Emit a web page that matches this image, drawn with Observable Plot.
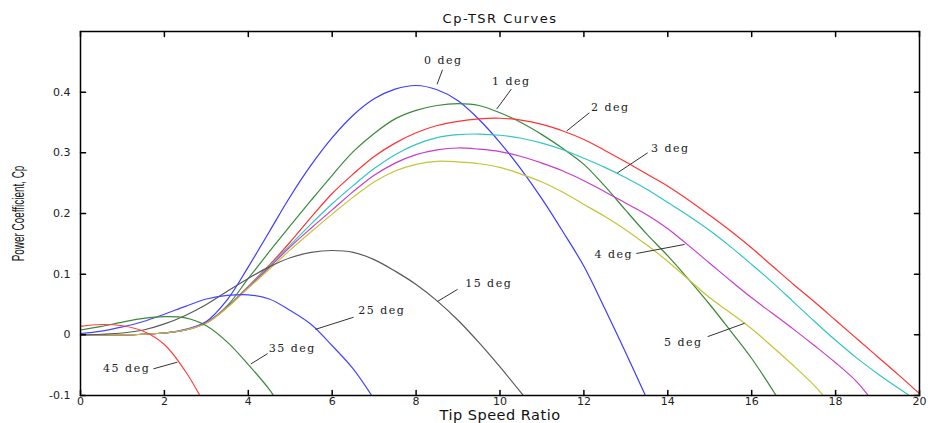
<!DOCTYPE html>
<html><head><meta charset="utf-8">
<script src="https://cdn.jsdelivr.net/npm/d3@7"></script>
<script src="https://cdn.jsdelivr.net/npm/@observablehq/plot@0.6"></script>
<style>
html,body{margin:0;padding:0;background:#fff;}
#chart svg{display:block;}
</style></head><body><div id="chart"></div>
<script>
// Tip speed ratio (x) vs power coefficient Cp (y), per pitch angle
const pitch0 = [[0,0],[0.5,0],[1,0],[1.5,0.001],[2,0.003],[2.5,0.009],[3,0.022],[3.5,0.058],[4,0.112],[4.5,0.17],[5,0.228],[5.5,0.28],[6,0.325],[6.5,0.362],[7,0.389],[7.5,0.405],[8,0.411],[8.5,0.404],[9,0.386],[9.5,0.355],[10,0.317],[10.5,0.273],[11,0.224],[11.5,0.17],[12,0.113],[12.5,0.043],[13,-0.03],[13.48,-0.102]];
const pitch1 = [[0,0],[0.5,0],[1,0],[1.5,0.001],[2,0.003],[2.5,0.008],[3,0.02],[3.5,0.048],[4,0.093],[4.5,0.137],[5,0.18],[5.5,0.222],[6,0.263],[6.5,0.302],[7,0.332],[7.5,0.356],[8,0.37],[8.5,0.378],[9,0.381],[9.5,0.378],[10,0.366],[10.5,0.35],[11,0.33],[11.5,0.307],[12,0.281],[12.5,0.245],[13,0.205],[13.5,0.166],[14,0.13],[14.5,0.091],[15,0.05],[15.5,0.006],[16,-0.039],[16.6,-0.102]];
const pitch2 = [[0,0],[0.5,0],[1,0],[1.5,0.001],[2,0.003],[2.5,0.008],[3,0.02],[3.5,0.046],[4,0.08],[4.5,0.115],[5,0.153],[5.5,0.194],[6,0.233],[6.5,0.265],[7,0.294],[7.5,0.316],[8,0.333],[8.5,0.345],[9,0.352],[9.5,0.356],[10,0.357],[10.5,0.354],[11,0.347],[11.5,0.336],[12,0.322],[12.5,0.304],[13,0.285],[13.5,0.265],[14,0.245],[14.5,0.222],[15,0.197],[15.5,0.171],[16,0.143],[16.5,0.113],[17,0.083],[17.5,0.054],[18,0.024],[18.5,-0.006],[19,-0.036],[19.5,-0.066],[20,-0.097]];
const pitch3 = [[0,0],[0.5,0],[1,0],[1.5,0.001],[2,0.003],[2.5,0.008],[3,0.02],[3.5,0.046],[4,0.079],[4.5,0.113],[5,0.148],[5.5,0.183],[6,0.216],[6.5,0.246],[7,0.274],[7.5,0.297],[8,0.314],[8.5,0.325],[9,0.33],[9.5,0.331],[10,0.329],[10.5,0.324],[11,0.316],[11.5,0.305],[12,0.291],[12.5,0.276],[13,0.259],[13.5,0.24],[14,0.218],[14.5,0.196],[15,0.172],[15.5,0.145],[16,0.116],[16.5,0.086],[17,0.054],[17.5,0.022],[18,-0.009],[18.5,-0.038],[19,-0.064],[19.5,-0.088],[19.8,-0.102]];
const pitch4 = [[0,0],[0.5,0],[1,0],[1.5,0.001],[2,0.003],[2.5,0.008],[3,0.02],[3.5,0.046],[4,0.078],[4.5,0.111],[5,0.145],[5.5,0.176],[6,0.206],[6.5,0.236],[7,0.263],[7.5,0.283],[8,0.297],[8.5,0.305],[9,0.308],[9.5,0.306],[10,0.302],[10.5,0.294],[11,0.283],[11.5,0.27],[12,0.254],[12.5,0.236],[13,0.217],[13.5,0.198],[14,0.175],[14.5,0.147],[15,0.118],[15.5,0.089],[16,0.061],[16.5,0.035],[17,0.009],[17.5,-0.018],[18,-0.046],[18.5,-0.077],[18.8,-0.102]];
const pitch5 = [[0,0],[0.5,0],[1,0],[1.5,0.001],[2,0.003],[2.5,0.008],[3,0.019],[3.5,0.045],[4,0.077],[4.5,0.108],[5,0.14],[5.5,0.17],[6,0.199],[6.5,0.227],[7,0.252],[7.5,0.27],[8,0.281],[8.5,0.286],[9,0.285],[9.5,0.282],[10,0.276],[10.5,0.265],[11,0.252],[11.5,0.235],[12,0.215],[12.5,0.195],[13,0.173],[13.5,0.148],[14,0.121],[14.5,0.091],[15,0.061],[15.5,0.036],[16,0.01],[16.5,-0.02],[17,-0.051],[17.5,-0.084],[17.73,-0.102]];
const pitch15 = [[0,0],[0.5,0.001],[1,0.003],[1.5,0.008],[2,0.018],[2.5,0.032],[3,0.05],[3.5,0.072],[4,0.093],[4.5,0.112],[5,0.127],[5.5,0.136],[6,0.139],[6.5,0.136],[7,0.124],[7.5,0.105],[8,0.083],[8.5,0.056],[9,0.024],[9.5,-0.013],[10,-0.053],[10.58,-0.102]];
const pitch25 = [[0,0.002],[0.5,0.006],[1,0.013],[1.5,0.022],[2,0.034],[2.5,0.047],[3,0.059],[3.5,0.065],[4,0.066],[4.5,0.059],[5,0.04],[5.5,0.017],[6,-0.018],[6.5,-0.056],[6.96,-0.102]];
const pitch35 = [[0,0.008],[0.5,0.014],[1,0.021],[1.5,0.027],[2,0.03],[2.5,0.028],[3,0.015],[3.5,-0.012],[4,-0.049],[4.5,-0.09],[4.62,-0.102]];
const pitch45 = [[0,0.014],[0.5,0.017],[1,0.015],[1.5,0.006],[2,-0.016],[2.5,-0.06],[2.86,-0.102]];

const seriesNames = ["0 deg","1 deg","2 deg","3 deg","4 deg","5 deg","15 deg","25 deg","35 deg","45 deg"];
const seriesData = [pitch0,pitch1,pitch2,pitch3,pitch4,pitch5,pitch15,pitch25,pitch35,pitch45];
const palette = ["#3c3cff","#3a8a3a","#ff3333","#33c4c4","#c83cc8","#c4c436","#5a5a5a","#4646ff","#3a8a3a","#ff4040"];

const xTicks = [0,2,4,6,8,10,12,14,16,18,20];
const yTicks = [-0.1,0,0.1,0.2,0.3,0.4];

// annotation label positions (data units) and leader lines
const labelText = ["0 deg","1 deg","2 deg","3 deg","4 deg","5 deg","15 deg","25 deg","35 deg","45 deg"];
const labelX = [8.65,10.27,12.63,14.06,12.71,14.37,9.73,7.18,5.05,1.1];
const labelY = [0.452,0.418,0.375,0.308,0.133,-0.013,0.085,0.04,-0.023,-0.056];
const leadX1 = [8.63,10.27,12.13,13.52,13.25,14.95,8.99,6.51,4.46,1.74];
const leadY1 = [0.437,0.405,0.366,0.3,0.134,-0.003,0.075,0.029,-0.031,-0.056];
const leadX2 = [8.5,9.92,11.59,12.8,14.4,15.83,8.51,5.6,4.06,2.31];
const leadY2 = [0.413,0.372,0.336,0.267,0.149,0.019,0.055,0.009,-0.048,-0.045];

const rows = seriesNames.flatMap((name, i) => seriesData[i].map(([x, y]) => ({series: name, x, y})));
const labels = labelText.map((t, i) => ({text: t, tx: labelX[i], ty: labelY[i], x1: leadX1[i], y1: leadY1[i], x2: leadX2[i], y2: leadY2[i]}));

const tickShape = {draw(ctx, l) { ctx.moveTo(0, 0); ctx.lineTo(0, -l); }};
const yFmt = d => d === 0 ? "0" : d.toFixed(1);

const chart = Plot.plot({
  width: 928, height: 423,
  marginLeft: 80, marginRight: 9, marginTop: 31, marginBottom: 28,
  x: {domain: [0, 20]},
  y: {domain: [-0.1, 0.5]},
  color: {domain: seriesNames, range: palette},
  style: {background: "#fff", fontFamily: "DejaVu Sans, sans-serif", color: "#000"},
  marks: [
    Plot.axisX({ticks: xTicks, tickSize: 0, tickPadding: 2, tickFormat: d => String(d), fontSize: 11, fill: "#222", label: null}),
    Plot.axisY({ticks: yTicks, tickSize: 0, tickPadding: 10, tickFormat: yFmt, fontSize: 11, fill: "#222", label: null}),
    Plot.line(rows, {x: "x", y: "y", z: "series", stroke: "series", strokeWidth: 1.2, curve: "catmull-rom", clip: true}),
    Plot.link(labels, {x1: "x1", y1: "y1", x2: "x2", y2: "y2", stroke: "#333", strokeWidth: 1}),
    Plot.text(labels, {x: "tx", y: "ty", text: "text", fontFamily: "DejaVu Serif, serif", fontSize: 11, fill: "#222"}),
    Plot.vector(xTicks, {x: d => d, frameAnchor: "bottom", length: 5, rotate: 0, anchor: "start", shape: tickShape, stroke: "#000"}),
    Plot.vector(xTicks, {x: d => d, frameAnchor: "top", length: 5, rotate: 180, anchor: "start", shape: tickShape, stroke: "#000"}),
    Plot.vector(yTicks, {y: d => d, frameAnchor: "left", length: 5, rotate: 90, anchor: "start", shape: tickShape, stroke: "#000"}),
    Plot.vector(yTicks, {y: d => d, frameAnchor: "right", length: 5, rotate: -90, anchor: "start", shape: tickShape, stroke: "#000"}),
    Plot.frame({stroke: "#000", strokeWidth: 1.5}),
    Plot.text(["Cp-TSR Curves"], {frameAnchor: "top", textAnchor: "middle", lineAnchor: "middle", dy: -13, text: d => d, fontSize: 13, fill: "#111"}),
    Plot.text(["Tip Speed Ratio"], {frameAnchor: "bottom", textAnchor: "middle", lineAnchor: "middle", dy: 19.5, text: d => d, fontSize: 14.5, fill: "#111"}),
    Plot.text(["Power Coefficient, Cp"], {frameAnchor: "left", textAnchor: "middle", lineAnchor: "middle", dx: -62, rotate: -90, text: d => d, fontSize: 16, fontFamily: "Liberation Sans, Arial, sans-serif", fill: "#111"})
  ]
});

document.getElementById("chart").appendChild(chart);

// typographic touches
chart.querySelectorAll("text").forEach(t => {
  const s = t.textContent;
  if (/deg$/.test(s)) t.style.letterSpacing = "1.5px";
  if (s === "Cp-TSR Curves") t.style.letterSpacing = "1.5px";
  if (s === "Tip Speed Ratio") t.style.letterSpacing = "0.5px";
  if (s === "Power Coefficient, Cp") {
    const tr = t.getAttribute("transform") || "";
    t.setAttribute("transform", tr + " scale(0.62,1)");
  }
});
</script>
</body></html>
